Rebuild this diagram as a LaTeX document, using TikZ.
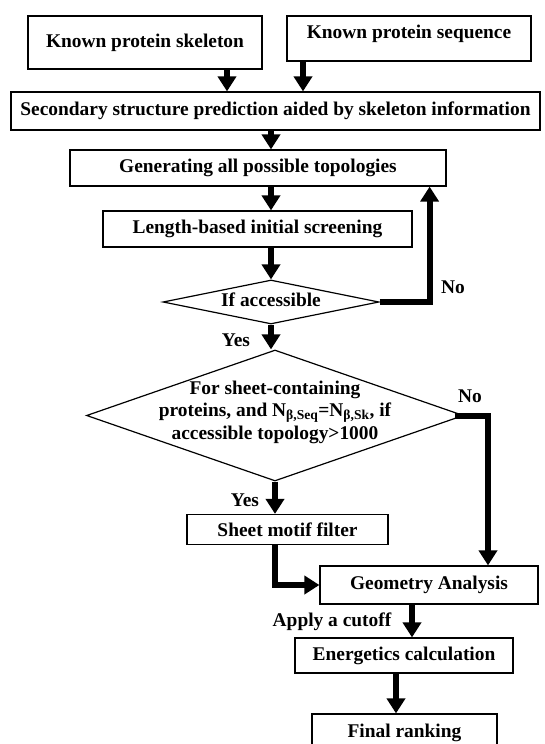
\documentclass[tikz,border=0pt]{standalone}
\usepackage{fontspec}
\setmainfont{Liberation Serif}
\usetikzlibrary{arrows.meta,shapes.geometric}

\tikzset{
  stepbox/.style={draw, line width=1.2pt, inner sep=0pt},
  decision/.style={draw, diamond, line width=1.2pt, inner sep=0pt},
  flow/.style={line width=6pt, -{Triangle[length=15pt,width=18pt]}},
  elbow/.style={line width=6pt, -{Triangle[length=15pt,width=18pt]}, rounded corners=0pt}
}

\begin{document}
\begin{tikzpicture}[x=1pt, y=-1pt, font=\fontsize{19.4}{22.5}\selectfont\bfseries]
        \useasboundingbox (0,0) rectangle (544,744);
        % Draw the input boxes
        \node[stepbox, minimum width=234, minimum height=53] (skel) at (145,42.5) {Known protein skeleton};
        \node[stepbox, minimum width=244, minimum height=45] (seq) at (409,38.5) {};
        \node (seqtext) at (409,34) {Known protein sequence};
        \node[stepbox, minimum width=529, minimum height=38] (sec) at (275.5,111) {Secondary structure prediction aided by skeleton information};
        % Draw the topology steps
        \node[stepbox, minimum width=376, minimum height=36] (gen) at (258,168) {Generating all possible topologies};
        \node[stepbox, minimum width=309, minimum height=36] (len) at (257.5,229) {Length-based initial screening};
        \node[decision, minimum width=216, minimum height=44] (acc) at (271,302) {};
        \node (acctext) at (271,300) {If accessible};
        % Draw the sheet decision
        \node[decision, minimum width=377, minimum height=131] (big) at (275,415.5) {};
        \node[align=center] (bigtext) at (275,412) {For sheet-containing\\proteins, and N\textsubscript{β,Seq}=N\textsubscript{β,Sk}, if\\accessible topology>1000};
        \node[stepbox, minimum width=201, minimum height=30] (sheet) at (287.5,529.5) {Sheet motif filter};
        % Draw the final steps
        \node[stepbox, minimum width=218, minimum height=38] (geo) at (429,585) {Geometry Analysis};
        \node[stepbox, minimum width=218, minimum height=35] (ene) at (404,655.5) {Energetics calculation};
        \node[stepbox, minimum width=185, minimum height=42] (fin) at (404.5,735) {};
        \node (fintext) at (404.5,733) {Final ranking};
        % Draw the labels
        \node (no1) at (453,287) {No};
        \node (yes1) at (236,340) {Yes};
        \node (no2) at (470,396) {No};
        \node (yes2) at (245,500) {Yes};
        \node (cutoff) at (332,622) {Apply a cutoff};
        % Draw the arrows
        \draw[flow] ([xshift=82]skel.south) -- ([xshift=82]skel.south |- sec.north);
        \draw[flow] ([xshift=-106]seq.south) -- ([xshift=-106]seq.south |- sec.north);
        \draw[flow] (sec.south -| acc.north) -- (gen.north -| acc.north);
        \draw[flow] (gen.south -| acc.north) -- (len.north -| acc.north);
        \draw[flow] (len.south -| acc.north) -- (acc.north);
        \draw[elbow] (acc.east) -| ([xshift=-17]gen.south east);
        \draw[flow] (acc.south) -- (acc.south |- big.north);
        \draw[elbow] ([xshift=-9]big.east) -| ([xshift=59]geo.north);
        \draw[flow] (big.south) -- (big.south |- sheet.north);
        \draw[elbow] (sheet.south -| big.south) |- (geo.west);
        \draw[flow] ([xshift=-17]geo.south) -- ([xshift=-17]geo.south |- ene.north);
        \draw[flow] ([xshift=-8]ene.south) -- ([xshift=-8]ene.south |- fin.north);
\end{tikzpicture}
\end{document}
